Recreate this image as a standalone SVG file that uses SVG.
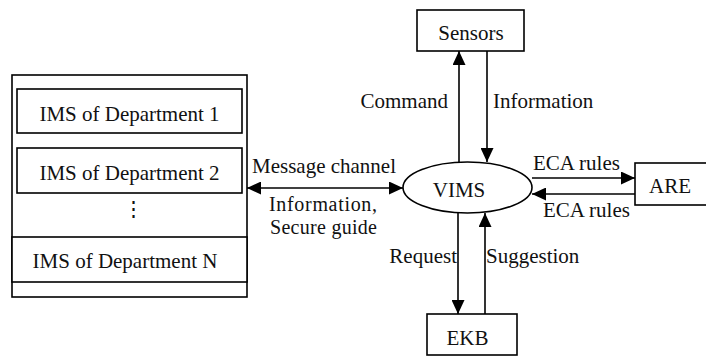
<svg xmlns="http://www.w3.org/2000/svg" width="706" height="356" viewBox="0 0 706 356">
<defs>
<style>
.b{fill:#fff;stroke:#000;stroke-width:1.6}
.t{font-family:"Liberation Serif","Times New Roman",serif;font-size:21px;fill:#111}
.s{font-size:20px}
.c{stroke:#000;stroke-width:1.6;fill:none}
</style>
<marker id="ah" viewBox="0 0 14 13" refX="14" refY="6.5" markerWidth="14" markerHeight="13" markerUnits="userSpaceOnUse" orient="auto-start-reverse">
<path d="M0,0 L14,6.5 L0,13 Z" fill="#000"/>
</marker>
</defs>
<rect width="706" height="356" fill="#fff"/>
<g id="departments">
<rect class="b" x="12" y="75" width="235" height="222"/>
<rect class="b" x="17" y="89" width="225" height="44"/>
<text class="t" x="129.5" y="121" text-anchor="middle">IMS of Department 1</text>
<rect class="b" x="17" y="148" width="225" height="45"/>
<text class="t" x="129.5" y="180" text-anchor="middle">IMS of Department 2</text>
<text class="t" x="133" y="216" text-anchor="middle">⋮</text>
<rect class="b" x="12" y="237" width="235" height="45"/>
<text class="t" x="125" y="268" text-anchor="middle">IMS of Department N</text>
</g>
<g id="sensors">
<rect class="b" x="417" y="10" width="107" height="41"/>
<text class="t" x="471" y="40" text-anchor="middle">Sensors</text>
</g>
<g id="vims">
<ellipse class="b" cx="467.5" cy="187.5" rx="64.5" ry="25.5"/>
<text class="t" x="459" y="197" text-anchor="middle">VIMS</text>
</g>
<g id="are">
<rect class="b" x="635" y="163" width="90" height="42"/>
<text class="t" x="670" y="193" text-anchor="middle">ARE</text>
</g>
<g id="ekb">
<rect class="b" x="427" y="314" width="90" height="41"/>
<text class="t" x="467.5" y="345" text-anchor="middle">EKB</text>
</g>
<g id="connectors">
<line class="c" x1="247" y1="188" x2="403" y2="188" marker-start="url(#ah)" marker-end="url(#ah)"/>
<line class="c" x1="459" y1="162" x2="459" y2="51" marker-end="url(#ah)"/>
<line class="c" x1="487" y1="51" x2="487" y2="162" marker-end="url(#ah)"/>
<line class="c" x1="532" y1="178" x2="635" y2="178" marker-end="url(#ah)"/>
<line class="c" x1="635" y1="194" x2="532" y2="194" marker-end="url(#ah)"/>
<line class="c" x1="458" y1="213" x2="458" y2="314" marker-end="url(#ah)"/>
<line class="c" x1="485" y1="314" x2="485" y2="213" marker-end="url(#ah)"/>
<text class="t" x="252" y="173">Message channel</text>
<text class="t s" x="269" y="211" textLength="108">Information,</text>
<text class="t s" x="270" y="234" textLength="107">Secure guide</text>
<text class="t" x="448" y="108" text-anchor="end">Command</text>
<text class="t" x="493" y="108">Information</text>
<text class="t" x="533" y="170">ECA rules</text>
<text class="t" x="543" y="217">ECA rules</text>
<text class="t" x="457" y="263" text-anchor="end">Request</text>
<text class="t" x="486" y="263">Suggestion</text>
</g>
</svg>
